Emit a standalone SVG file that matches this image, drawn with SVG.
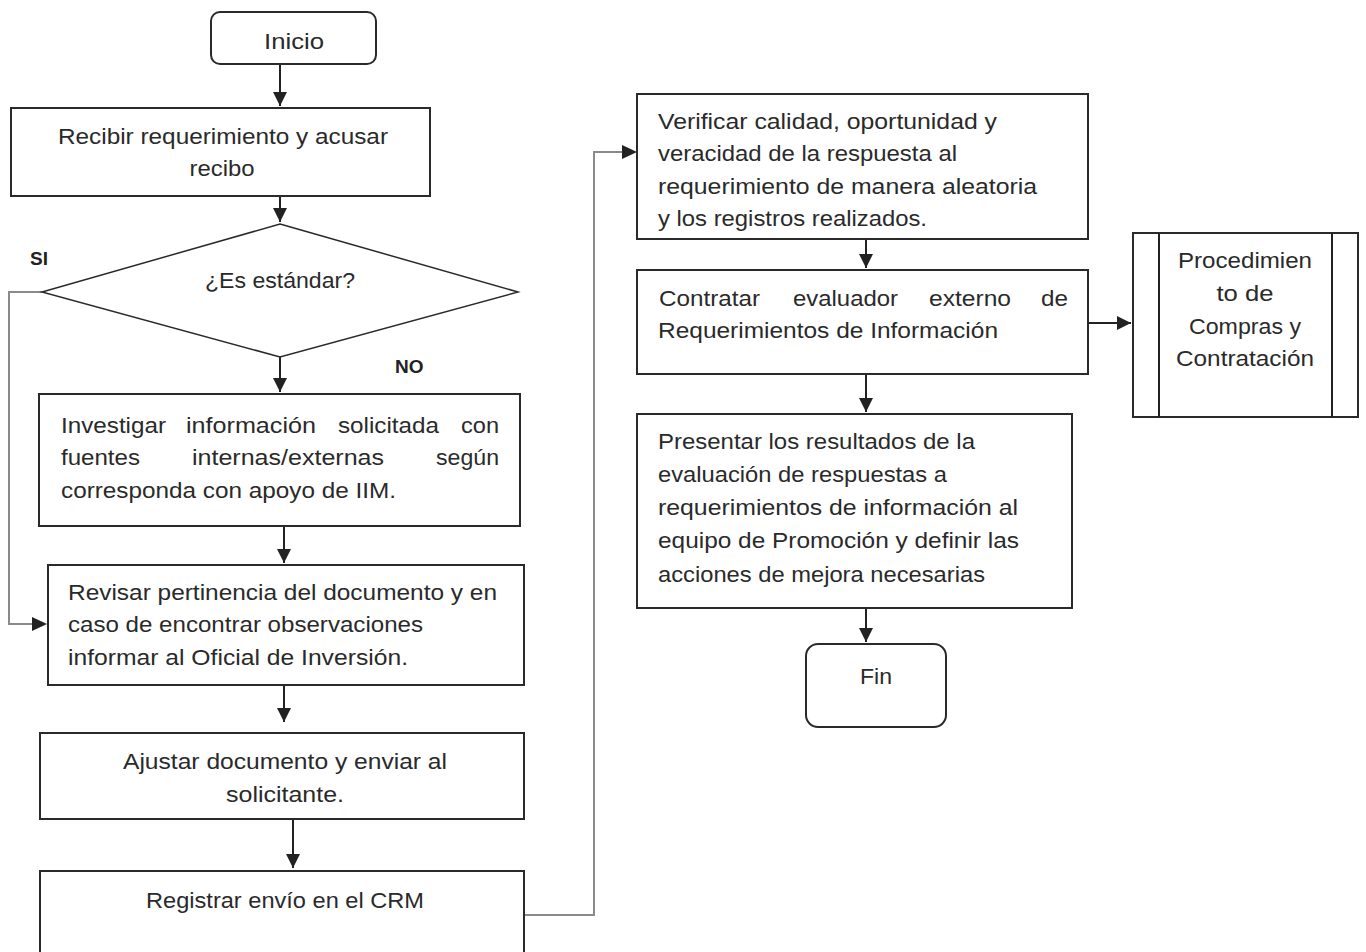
<svg xmlns="http://www.w3.org/2000/svg" width="1366" height="952" viewBox="0 0 1366 952">
<defs>
<marker id="ahb" viewBox="0 0 10 10" refX="10" refY="5" markerWidth="14" markerHeight="14" markerUnits="userSpaceOnUse" orient="auto"><path d="M0,0 L10,5 L0,10 z" fill="#222"/></marker>
<style>
.box{fill:#fff;stroke:#2a2a2a;stroke-width:2}
.t{font-family:"Liberation Sans",Arial,sans-serif;font-size:22px;fill:#2a2a2a}
.c{text-anchor:middle}
.n{font-family:"Liberation Sans Narrow","Liberation Sans",Arial,sans-serif;font-size:22px;fill:#2a2a2a}
.b{font-family:"Liberation Sans",Arial,sans-serif;font-size:19px;font-weight:bold;fill:#222}
.ln{fill:none;stroke:#222;stroke-width:2}
.gl{fill:none;stroke:#8a8a8a;stroke-width:2}
</style>
</defs>
<rect width="1366" height="952" fill="#fff"/>
<g id="connectors">
<line class="ln" x1="280" y1="64" x2="280" y2="106" marker-end="url(#ahb)"/>
<line class="ln" x1="280" y1="196" x2="280" y2="222" marker-end="url(#ahb)"/>
<line class="ln" x1="280" y1="357" x2="280" y2="392" marker-end="url(#ahb)"/>
<line class="ln" x1="284" y1="527" x2="284" y2="563" marker-end="url(#ahb)"/>
<line class="ln" x1="284" y1="685" x2="284" y2="722" marker-end="url(#ahb)"/>
<line class="ln" x1="293" y1="819" x2="293" y2="868" marker-end="url(#ahb)"/>
<polyline class="gl" points="42,292 9,292 9,624 38,624"/>
<path d="M32,617 L47,624 L32,631 z" fill="#222"/>
<polyline class="gl" points="525,915 594,915 594,152 626,152"/>
<path d="M622,145 L637,152 L622,159 z" fill="#222"/>
<line class="ln" x1="866" y1="239" x2="866" y2="268" marker-end="url(#ahb)"/>
<line class="ln" x1="1089" y1="323" x2="1131" y2="323" marker-end="url(#ahb)"/>
<line class="ln" x1="866" y1="374" x2="866" y2="412" marker-end="url(#ahb)"/>
<line class="ln" x1="866" y1="608" x2="866" y2="642" marker-end="url(#ahb)"/>
</g>
<g id="inicio">
<rect class="box" x="211" y="12" width="165" height="52" rx="9"/>
<text class="t c" x="294" y="49" textLength="60" lengthAdjust="spacingAndGlyphs">Inicio</text>
</g>
<g id="recibir">
<rect class="box" x="11" y="108" width="419" height="88"/>
<text class="t c" x="223" y="144" textLength="330" lengthAdjust="spacingAndGlyphs">Recibir requerimiento y acusar</text>
<text class="t c" x="222" y="176" textLength="65" lengthAdjust="spacingAndGlyphs">recibo</text>
</g>
<g id="decision">
<polygon points="280,224 518,292 280,357 42,292" fill="#fff" stroke="#2a2a2a" stroke-width="1.5"/>
<text class="t c" x="280" y="288" textLength="150" lengthAdjust="spacingAndGlyphs">¿Es estándar?</text>
<text class="b" x="30" y="265">SI</text>
<text class="b" x="395" y="373">NO</text>
</g>
<g id="investigar">
<rect class="box" x="39" y="394" width="481" height="132"/>
<text class="t" y="433"><tspan x="61" textLength="105" lengthAdjust="spacingAndGlyphs">Investigar</tspan> <tspan x="186" textLength="130" lengthAdjust="spacingAndGlyphs">información</tspan> <tspan x="338" textLength="101" lengthAdjust="spacingAndGlyphs">solicitada</tspan> <tspan x="461" textLength="38" lengthAdjust="spacingAndGlyphs">con</tspan></text>
<text class="t" y="465"><tspan x="61" textLength="79" lengthAdjust="spacingAndGlyphs">fuentes</tspan> <tspan x="192" textLength="192" lengthAdjust="spacingAndGlyphs">internas/externas</tspan> <tspan x="436" textLength="63" lengthAdjust="spacingAndGlyphs">según</tspan></text>
<text class="t" x="61" y="498" textLength="335" lengthAdjust="spacingAndGlyphs">corresponda con apoyo de IIM.</text>
</g>
<g id="revisar">
<rect class="box" x="48" y="565" width="476" height="120"/>
<text class="t" x="68" y="600" textLength="429" lengthAdjust="spacingAndGlyphs">Revisar pertinencia del documento y en</text>
<text class="t" x="68" y="632" textLength="355" lengthAdjust="spacingAndGlyphs">caso de encontrar observaciones</text>
<text class="t" x="68" y="665" textLength="340" lengthAdjust="spacingAndGlyphs">informar al Oficial de Inversión.</text>
</g>
<g id="ajustar">
<rect class="box" x="40" y="733" width="484" height="86"/>
<text class="t c" x="285" y="769" textLength="324" lengthAdjust="spacingAndGlyphs">Ajustar documento y enviar al</text>
<text class="t c" x="285" y="802" textLength="118" lengthAdjust="spacingAndGlyphs">solicitante.</text>
</g>
<g id="registrar">
<rect class="box" x="40" y="871" width="484" height="100"/>
<text class="t c" x="285" y="908" textLength="278" lengthAdjust="spacingAndGlyphs">Registrar envío en el CRM</text>
</g>
<g id="verificar">
<rect class="box" x="637" y="94" width="451" height="145"/>
<text class="n" x="658" y="129" textLength="339" lengthAdjust="spacingAndGlyphs">Verificar calidad, oportunidad y</text>
<text class="n" x="658" y="161" textLength="299" lengthAdjust="spacingAndGlyphs">veracidad de la respuesta al</text>
<text class="n" x="658" y="194" textLength="379" lengthAdjust="spacingAndGlyphs">requerimiento de manera aleatoria</text>
<text class="n" x="658" y="226" textLength="269" lengthAdjust="spacingAndGlyphs">y los registros realizados.</text>
</g>
<g id="contratar">
<rect class="box" x="637" y="270" width="451" height="104"/>
<text class="n" y="306"><tspan x="659" textLength="101" lengthAdjust="spacingAndGlyphs">Contratar</tspan> <tspan x="793" textLength="105" lengthAdjust="spacingAndGlyphs">evaluador</tspan> <tspan x="929" textLength="82" lengthAdjust="spacingAndGlyphs">externo</tspan> <tspan x="1041" textLength="27" lengthAdjust="spacingAndGlyphs">de</tspan></text>
<text class="n" x="658" y="338" textLength="340" lengthAdjust="spacingAndGlyphs">Requerimientos de Información</text>
</g>
<g id="procedimiento">
<rect class="box" x="1133" y="233" width="225" height="184"/>
<line class="ln" x1="1159" y1="233" x2="1159" y2="417"/>
<line class="ln" x1="1332" y1="233" x2="1332" y2="417"/>
<text class="n c" x="1245" y="268" textLength="134" lengthAdjust="spacingAndGlyphs">Procedimien</text>
<text class="n c" x="1245" y="301" textLength="57" lengthAdjust="spacingAndGlyphs">to de</text>
<text class="n c" x="1245" y="334" textLength="112" lengthAdjust="spacingAndGlyphs">Compras y</text>
<text class="n c" x="1245" y="366" textLength="138" lengthAdjust="spacingAndGlyphs">Contratación</text>
</g>
<g id="presentar">
<rect class="box" x="637" y="414" width="435" height="194"/>
<text class="t" x="658" y="449" textLength="317" lengthAdjust="spacingAndGlyphs">Presentar los resultados de la</text>
<text class="t" x="658" y="482" textLength="289" lengthAdjust="spacingAndGlyphs">evaluación de respuestas a</text>
<text class="t" x="658" y="515" textLength="360" lengthAdjust="spacingAndGlyphs">requerimientos de información al</text>
<text class="t" x="658" y="548" textLength="361" lengthAdjust="spacingAndGlyphs">equipo de Promoción y definir las</text>
<text class="t" x="658" y="582" textLength="327" lengthAdjust="spacingAndGlyphs">acciones de mejora necesarias</text>
</g>
<g id="fin">
<rect class="box" x="806" y="644" width="140" height="83" rx="12"/>
<text class="t c" x="876" y="684" textLength="32" lengthAdjust="spacingAndGlyphs">Fin</text>
</g>
</svg>
